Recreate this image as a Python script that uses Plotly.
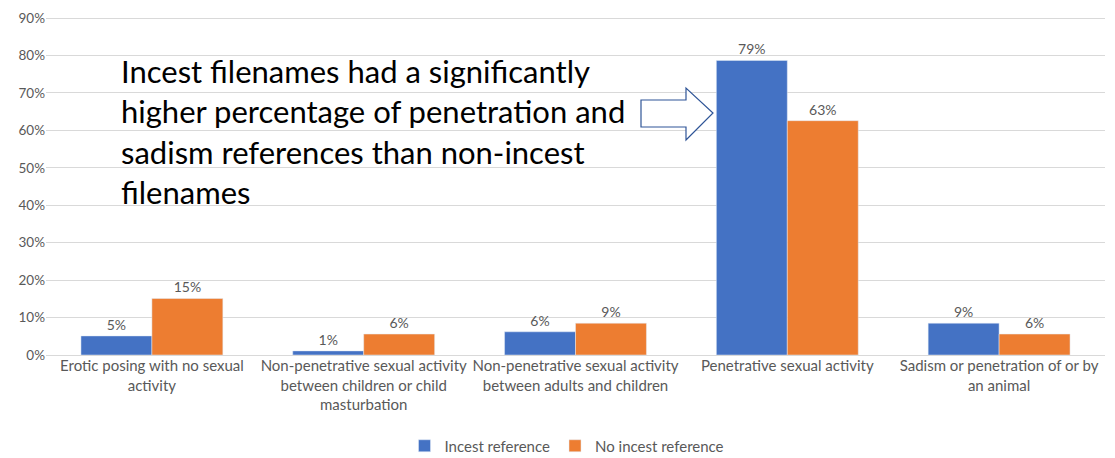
import plotly.graph_objects as go

categories = [
    "Erotic posing with no sexual<br>activity",
    "Non-penetrative sexual activity<br>between children or child<br>masturbation",
    "Non-penetrative sexual activity<br>between adults and children",
    "Penetrative sexual activity",
    "Sadism or penetration of or by<br>an animal",
]
incest = [0.051, 0.011, 0.062, 0.787, 0.085]
no_incest = [0.151, 0.056, 0.085, 0.626, 0.056]
y_ticks = [0, 0.1, 0.2, 0.3, 0.4, 0.5, 0.6, 0.7, 0.8, 0.9]

BLUE = "#4472C4"
ORANGE = "#ED7D31"
GRAY = "#595959"
FONT = "Lato"

# page body has an 8px default margin; size the figure so it fits the window
OFF = 8
W, H = 1115 - OFF, 458 - OFF
L, R, T, B = 38, 10, 9, 103
PW, PH = W - L - R, H - T - B
YMAX = 0.903

def px(sx):
    return (sx - OFF - L) / PW

def py(sy):
    return (H - B - (sy - OFF)) / PH

fig = go.Figure()
fig.add_trace(go.Bar(
    name="Incest reference", x=categories, y=incest, marker_color=BLUE,
    text=incest, texttemplate="%{y:.0%}", textposition="outside",
    textfont=dict(color=GRAY, size=14, family=FONT), cliponaxis=False,
))
fig.add_trace(go.Bar(
    name="No incest reference", x=categories, y=no_incest, marker_color=ORANGE,
    text=no_incest, texttemplate="%{y:.0%}", textposition="outside",
    textfont=dict(color=GRAY, size=14, family=FONT), cliponaxis=False,
))

arrow_pts = [(641, 100), (686, 100), (686, 88), (713, 113), (686, 140), (686, 127), (641, 127)]
path = "M " + " L ".join(f"{px(a):.5f},{py(b):.5f}" for a, b in arrow_pts) + " Z"
fig.add_shape(type="path", path=path, xref="paper", yref="paper",
              line=dict(color="#2F5597", width=1.2), fillcolor="white", layer="above")

fig.add_annotation(
    xref="paper", yref="paper", x=px(119), y=py(50), xanchor="left", yanchor="top",
    align="left", showarrow=False,
    text="Incest filenames had a significantly<br>higher percentage of penetration and<br>sadism references than non-incest<br>filenames",
    font=dict(family=FONT, size=31, color="#000000"),
)

fig.update_layout(
    width=W, height=H,
    margin=dict(l=L, r=R, t=T, b=B, autoexpand=False),
    paper_bgcolor="white", plot_bgcolor="white",
    barmode="group", bargap=0.33, bargroupgap=0,
    font=dict(family=FONT, color=GRAY, size=15),
    legend=dict(orientation="h", x=px(567), xanchor="center", y=py(446), yanchor="middle",
                font=dict(size=15, color=GRAY), itemwidth=30, traceorder="normal"),
    showlegend=True,
)
fig.update_xaxes(showgrid=False, tickfont=dict(size=15, color=GRAY, family=FONT),
                 ticks="", showline=False, tickangle=0, automargin=False)
fig.update_yaxes(range=[0, YMAX], tickvals=y_ticks, tickformat=".0%",
                 showgrid=True, gridcolor="#D9D9D9", gridwidth=1,
                 zeroline=True, zerolinecolor="#D9D9D9", zerolinewidth=1,
                 tickfont=dict(size=13.5, color=GRAY, family=FONT), ticks="", showline=False,
                 automargin=False, ticklabeloverflow="allow")

fig.write_html("out.html")
